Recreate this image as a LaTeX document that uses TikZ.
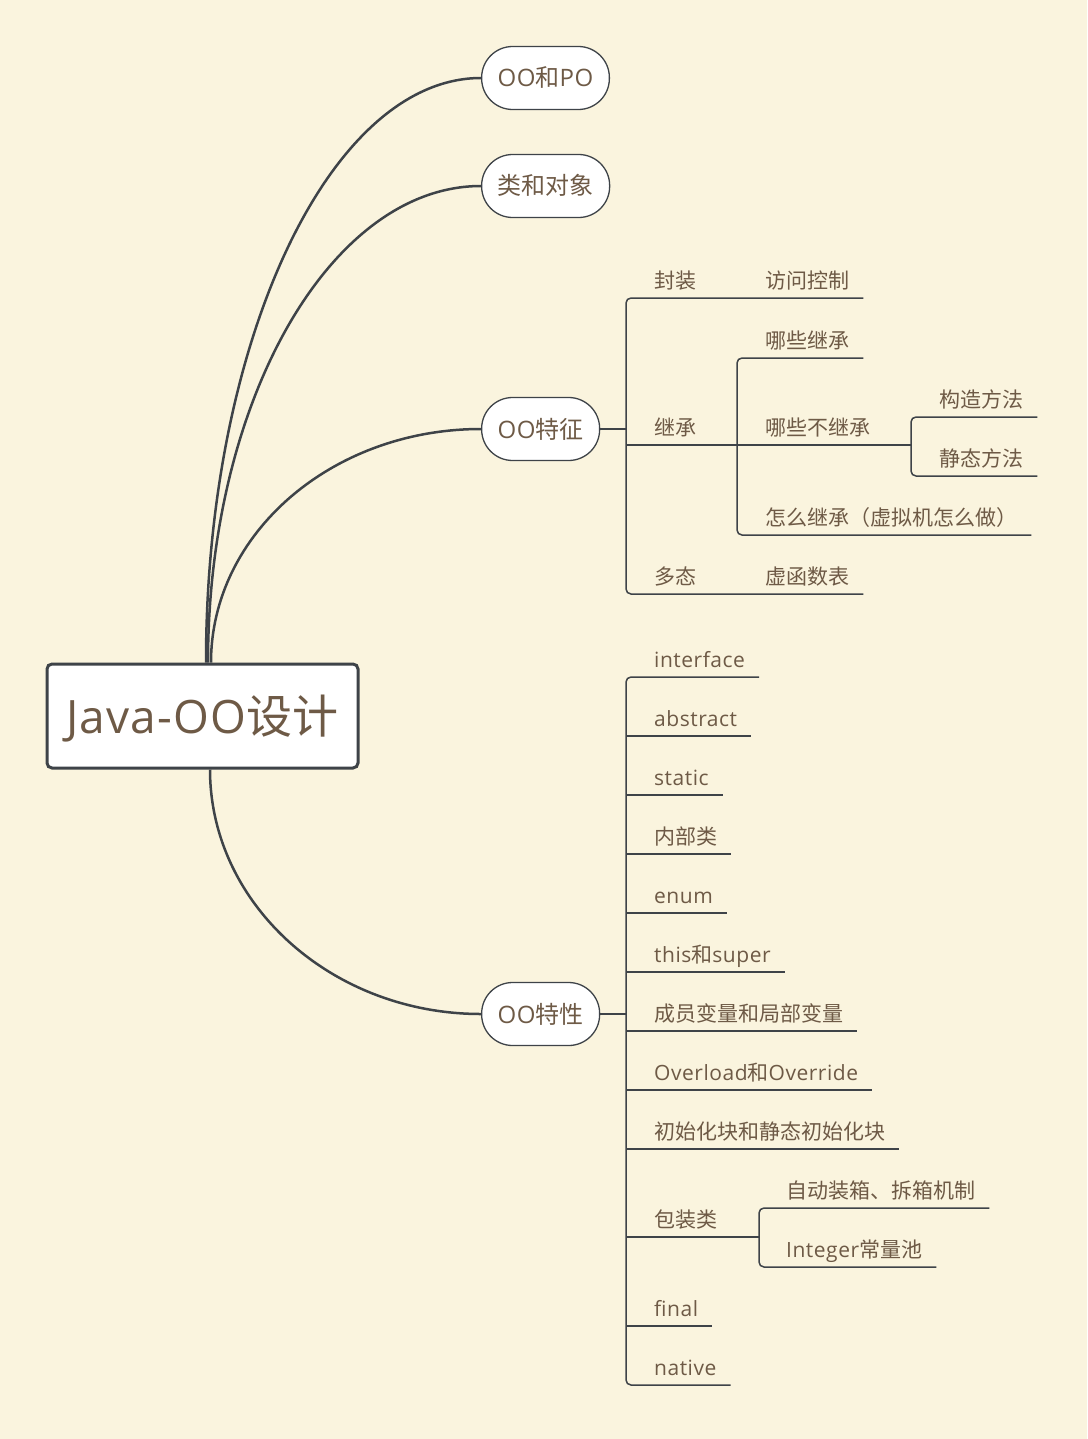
\documentclass[tikz,border=0pt]{standalone}
\usepackage{fontspec}
\setmainfont{Noto Sans CJK SC}
\newfontfamily\lat[LetterSpace=2.5]{Open Sans}
\definecolor{paperc}{HTML}{FAF4DE}
\definecolor{inkc}{HTML}{6E5A46}
\definecolor{linec}{HTML}{3E4348}
\pgfdeclarelayer{paper}
\pgfdeclarelayer{links}
\pgfsetlayers{paper,links,main}
\begin{document}
\begin{tikzpicture}[x=1pt,y=-1pt,
  rootbox/.style={draw=linec, line width=3pt, fill=white, rounded corners=5pt,
    minimum width=311pt, minimum height=104pt, inner sep=0pt, text=inkc,
    font=\fontsize{46pt}{50pt}\selectfont, text height=40.5pt, text depth=5.5pt},
  pill/.style={draw=linec, line width=1.3pt, fill=white, rounded corners=31pt,
    minimum height=63pt, inner xsep=16pt, inner ysep=0pt, anchor=west, text=inkc,
    font=\fontsize{24pt}{28pt}\selectfont, text height=21pt, text depth=3pt},
  leaf/.style={anchor=south west, inner xsep=14pt, inner ysep=0pt, minimum height=34pt,
    text=inkc, font=\fontsize{21pt}{25pt}\selectfont, text height=18.5pt, text depth=2.5pt},
  curve/.style={draw=linec, line width=2.5pt},
  stem/.style={draw=linec, line width=2pt},
  branch/.style={draw=linec, line width=1.5pt},
  turn/.style={branch, rounded corners=5pt}]
\begin{pgfonlayer}{paper}
\fill[paperc] (0,0) rectangle (1087,1439);
\end{pgfonlayer}
\useasboundingbox (0,0) rectangle (1087,1439);

% main nodes
\node[rootbox] (root) at (202.5,716) {{\lat Java-OO}设计};
\node[pill] (p1) at (481,78) {{\lat OO}和{\lat PO}};
\node[pill] (p2) at (481,186) {类和对象};
\node[pill] (p3) at (481,429) {{\lat OO}特征};
\node[pill] (p4) at (481,1014) {{\lat OO}特性};

\begin{pgfonlayer}{links}
\draw[curve] ([xshift=3.5pt]root.north) .. controls +(0,-322) and +(-151,0) .. (p1.west);
\draw[curve] ([xshift=5.5pt]root.north) .. controls +(0,-263) and +(-150,0) .. (p2.west);
\draw[curve] ([xshift=8.5pt]root.north) .. controls +(0,-129) and +(-149,0) .. (p3.west);
\draw[curve] ([xshift=7.5pt]root.south) .. controls +(0,135) and +(-149,0) .. (p4.west);
\end{pgfonlayer}

% OO features subtree
\coordinate (s1) at (626,429);
\coordinate (s2) at (737,445);
\coordinate (s3) at (911,445);
\node[leaf] (fz) at (640,298) {封装};
\node[leaf] (fzc) at (751,298) {访问控制};
\node[leaf] (jc) at (640,445) {继承};
\node[leaf] (jc1) at (751,358) {哪些继承};
\node[leaf] (jc2) at (751,445) {哪些不继承};
\node[leaf] (jc21) at (925,417) {构造方法};
\node[leaf] (jc22) at (925,476) {静态方法};
\node[leaf] (jc3) at (751,535) {怎么继承（虚拟机怎么做）};
\node[leaf] (dt) at (640,594) {多态};
\node[leaf] (dtc) at (751,594) {虚函数表};

\draw[stem] (p3.east) -- (s1);
\draw[turn] (fzc.south east) -- (s1 |- fz.south) -- (s1 |- dt.south) -- (dtc.south east);
\draw[branch] (s1 |- jc.south) -- (s2 |- jc.south);
\draw[turn] (jc1.south east) -- (s2 |- jc1.south) -- (s2 |- jc3.south) -- (jc3.south east);
\draw[branch] (s2 |- jc2.south) -- (s3 |- jc2.south);
\draw[turn] (jc21.south east) -- (s3 |- jc21.south) -- (s3 |- jc22.south) -- (jc22.south east);

% OO properties subtree
\coordinate (s4) at (626,1014);
\coordinate (s5) at (759,1237);
\node[leaf] (c1) at (640,677) {\lat interface};
\node[leaf] (c2) at (640,736) {\lat abstract};
\node[leaf] (c3) at (640,795) {\lat static};
\node[leaf] (c4) at (640,854) {内部类};
\node[leaf] (c5) at (640,913) {\lat enum};
\node[leaf] (c6) at (640,972) {{\lat this}和{\lat super}};
\node[leaf] (c7) at (640,1031) {成员变量和局部变量};
\node[leaf] (c8) at (640,1090) {{\lat Overload}和{\lat Override}};
\node[leaf] (c9) at (640,1149) {初始化块和静态初始化块};
\node[leaf] (c10) at (640,1237) {包装类};
\node[leaf] (c11) at (640,1326) {\lat final};
\node[leaf] (c12) at (640,1385) {\lat native};
\node[leaf] (w1) at (772,1208) {自动装箱、拆箱机制};
\node[leaf] (w2) at (772,1267) {{\lat Integer}常量池};

\draw[stem] (p4.east) -- (s4);
\draw[turn] (c1.south east) -- (s4 |- c1.south) -- (s4 |- c12.south) -- (c12.south east);
\foreach \n in {c2,c3,c4,c5,c6,c7,c8,c9,c11}
  \draw[branch] (s4 |- \n.south) -- (\n.south east);
\draw[branch] (s4 |- c10.south) -- (s5);
\draw[turn] (w1.south east) -- (s5 |- w1.south) -- (s5 |- w2.south) -- (w2.south east);
\end{tikzpicture}
\end{document}
